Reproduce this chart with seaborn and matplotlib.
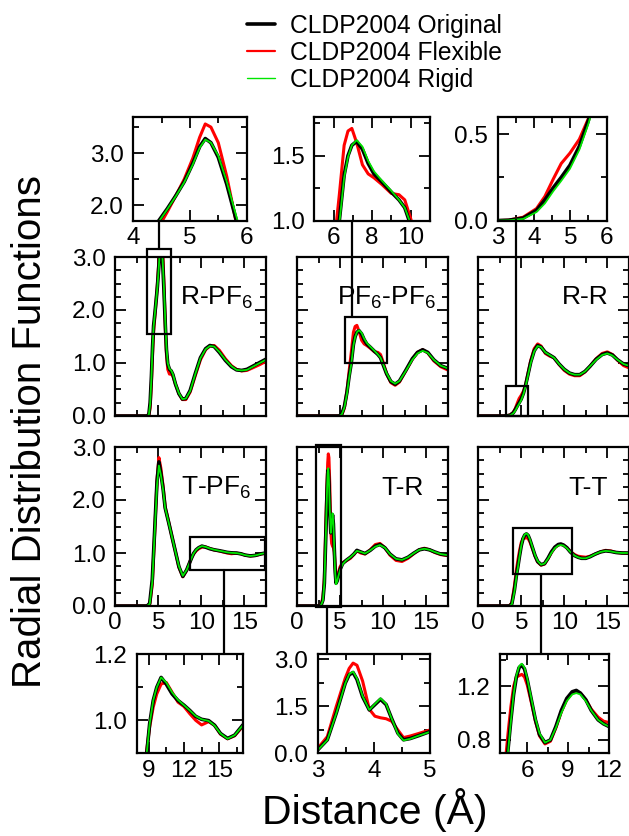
import numpy as np
import pandas as pd
import matplotlib
matplotlib.use("Agg")
import matplotlib.pyplot as plt
from matplotlib.ticker import MultipleLocator, FormatStrFormatter
from matplotlib.lines import Line2D
from matplotlib.patches import Rectangle
import seaborn as sns

# ---------------- radial distribution functions g(r) ----------------
models = ["CLDP2004 Original", "CLDP2004 Flexible", "CLDP2004 Rigid"]

r_rpf6 = [0, 3.7, 3.9, 4.05, 4.2, 4.33, 4.45, 4.6, 4.75, 4.9, 5.05, 5.17, 5.27, 5.37, 5.5, 5.65,
          5.82, 5.95, 6.1, 6.3, 6.5, 6.7, 7.0, 7.4, 7.8, 8.2, 8.7, 9.3, 9.9, 10.5, 11.0, 11.5,
          12.1, 12.8, 13.5, 14.1, 14.7, 15.3, 16.0, 16.8, 17.5]
g_rpf6_original = [0, 0, 0.03, 0.25, 0.75, 1.3, 1.7, 1.93, 2.18, 2.45, 2.8, 3.12, 3.28, 3.2, 2.92,
                   2.4, 1.7, 1.25, 0.98, 0.88, 0.85, 0.78, 0.6, 0.42, 0.32, 0.33, 0.48, 0.8, 1.1,
                   1.27, 1.33, 1.31, 1.2, 1.05, 0.93, 0.87, 0.86, 0.88, 0.94, 1.01, 1.07]
g_rpf6_flexible = [0, 0, 0.0, 0.15, 0.6, 1.15, 1.58, 1.87, 2.18, 2.5, 2.9, 3.3, 3.56, 3.5, 3.2,
                   2.55, 1.65, 1.15, 0.88, 0.79, 0.8, 0.75, 0.6, 0.42, 0.31, 0.31, 0.45, 0.76,
                   1.06, 1.25, 1.32, 1.33, 1.24, 1.08, 0.95, 0.88, 0.85, 0.86, 0.91, 0.97, 1.03]
g_rpf6_rigid = [0, 0, 0.02, 0.22, 0.72, 1.28, 1.68, 1.92, 2.17, 2.44, 2.78, 3.1, 3.26, 3.2, 2.95,
                2.45, 1.78, 1.3, 1.0, 0.89, 0.86, 0.79, 0.61, 0.43, 0.32, 0.33, 0.47, 0.79, 1.09,
                1.26, 1.32, 1.31, 1.21, 1.06, 0.94, 0.87, 0.86, 0.87, 0.93, 1.0, 1.06]

r_pf6pf6 = [0, 4.9, 5.2, 5.5, 5.8, 6.05, 6.3, 6.55, 6.75, 6.95, 7.2, 7.5, 7.8, 8.1, 8.5, 9.0,
            9.4, 9.7, 10.0, 10.4, 10.9, 11.4, 11.9, 12.6, 13.4, 14.0, 14.6, 15.2, 15.9, 16.7, 17.5]
g_pf6pf6_original = [0, 0, 0.04, 0.18, 0.45, 0.75, 1.0, 1.35, 1.5, 1.58, 1.61, 1.55, 1.44, 1.36,
                     1.3, 1.22, 1.16, 1.1, 0.97, 0.8, 0.65, 0.6, 0.66, 0.85, 1.08, 1.2, 1.25,
                     1.2, 1.06, 0.95, 0.9]
g_pf6pf6_flexible = [0, 0, 0.02, 0.15, 0.48, 0.85, 1.2, 1.58, 1.69, 1.71, 1.6, 1.43, 1.36, 1.33,
                     1.28, 1.21, 1.2, 1.16, 1.02, 0.8, 0.63, 0.58, 0.64, 0.84, 1.07, 1.2, 1.25,
                     1.19, 1.04, 0.93, 0.87]
g_pf6pf6_rigid = [0, 0, 0.03, 0.16, 0.42, 0.72, 0.98, 1.33, 1.49, 1.58, 1.62, 1.57, 1.46, 1.38,
                  1.31, 1.23, 1.16, 1.1, 0.98, 0.81, 0.66, 0.61, 0.66, 0.84, 1.06, 1.18, 1.23,
                  1.19, 1.06, 0.95, 0.9]

r_rr = [0, 2.9, 3.3, 3.7, 4.07, 4.3, 4.53, 4.75, 4.99, 5.25, 5.5, 5.8, 6.1, 6.5, 6.9, 7.3, 7.8,
        8.3, 8.8, 9.4, 10.0, 10.6, 11.2, 11.8, 12.4, 13.0, 13.7, 14.4, 15.0, 15.6, 16.2, 16.9, 17.5]
g_rr_original = [0, 0, 0.003, 0.015, 0.06, 0.12, 0.19, 0.25, 0.32, 0.43, 0.58, 0.8, 1.02, 1.23,
                 1.33, 1.3, 1.2, 1.15, 1.1, 0.98, 0.88, 0.81, 0.78, 0.78, 0.84, 0.94, 1.07, 1.16,
                 1.19, 1.15, 1.06, 0.98, 0.95]
g_rr_flexible = [0, 0, 0.003, 0.02, 0.07, 0.14, 0.24, 0.33, 0.39, 0.47, 0.59, 0.82, 1.05, 1.27,
                 1.36, 1.32, 1.18, 1.13, 1.1, 0.97, 0.86, 0.79, 0.76, 0.76, 0.83, 0.94, 1.08,
                 1.18, 1.21, 1.16, 1.05, 0.95, 0.91]
g_rr_rigid = [0, 0, 0.002, 0.01, 0.05, 0.1, 0.17, 0.23, 0.3, 0.41, 0.56, 0.78, 1.0, 1.22, 1.32,
              1.3, 1.2, 1.15, 1.1, 0.98, 0.88, 0.81, 0.78, 0.78, 0.84, 0.94, 1.06, 1.15, 1.18,
              1.14, 1.06, 0.98, 0.95]

r_tpf6 = [0, 3.7, 4.0, 4.3, 4.6, 4.85, 5.07, 5.3, 5.55, 5.8, 6.2, 6.6, 7.0, 7.4, 7.85, 8.3, 8.6,
          8.85, 9.1, 9.4, 9.7, 10.07, 10.5, 11.0, 11.5, 12.0, 12.5, 13.0, 13.5, 14.1, 14.6, 15.1,
          15.7, 16.3, 17.0, 17.5]
g_tpf6_original = [0, 0, 0.05, 0.5, 1.5, 2.35, 2.72, 2.5, 2.22, 1.85, 1.58, 1.3, 1.02, 0.74,
                   0.56, 0.68, 0.8, 0.9, 0.99, 1.06, 1.1, 1.13, 1.11, 1.08, 1.06, 1.046, 1.03,
                   1.012, 1.003, 0.999, 0.985, 0.96, 0.945, 0.955, 0.986, 1.0]
g_tpf6_flexible = [0, 0, 0.02, 0.4, 1.45, 2.38, 2.8, 2.6, 2.27, 1.87, 1.59, 1.3, 1.02, 0.73,
                   0.55, 0.67, 0.8, 0.91, 0.98, 1.04, 1.08, 1.11, 1.115, 1.085, 1.055, 1.042,
                   1.02, 1.0, 0.986, 0.996, 0.985, 0.958, 0.944, 0.953, 0.982, 0.998]
g_tpf6_rigid = [0, 0, 0.04, 0.45, 1.45, 2.28, 2.65, 2.47, 2.2, 1.85, 1.58, 1.3, 1.02, 0.75,
                0.57, 0.68, 0.8, 0.9, 0.99, 1.06, 1.1, 1.13, 1.115, 1.085, 1.062, 1.046, 1.03,
                1.013, 1.003, 0.998, 0.984, 0.96, 0.944, 0.955, 0.985, 1.0]

r_tr = [0, 2.6, 2.8, 3.0, 3.17, 3.33, 3.49, 3.56, 3.63, 3.7, 3.8, 3.92, 4.02, 4.12, 4.22, 4.32,
        4.43, 4.53, 4.65, 4.8, 5.0, 5.3, 5.7, 6.2, 6.6, 6.95, 7.4, 7.9, 8.5, 9.1, 9.64, 10.2,
        10.8, 11.5, 12.2, 12.9, 13.6, 14.2, 14.8, 15.4, 16.0, 16.7, 17.5]
g_tr_original = [0, 0, 0.02, 0.11, 0.43, 1.28, 2.23, 2.5, 2.57, 2.35, 1.8, 1.38, 1.55, 1.72,
                 1.55, 1.1, 0.64, 0.43, 0.47, 0.56, 0.69, 0.8, 0.86, 0.92, 0.98, 1.05, 1.02,
                 0.99, 1.05, 1.13, 1.16, 1.1, 0.98, 0.89, 0.87, 0.92, 1.0, 1.06, 1.08, 1.06,
                 1.02, 0.98, 0.96]
g_tr_flexible = [0, 0, 0.03, 0.16, 0.53, 1.49, 2.39, 2.7, 2.87, 2.8, 2.3, 1.4, 1.18, 1.13,
                 1.1, 1.02, 0.74, 0.5, 0.55, 0.63, 0.74, 0.82, 0.85, 0.9, 0.97, 1.04, 1.0,
                 0.98, 1.06, 1.16, 1.18, 1.1, 0.96, 0.86, 0.84, 0.9, 0.99, 1.06, 1.09, 1.06,
                 1.01, 0.97, 0.95]
g_tr_rigid = [0, 0, 0.02, 0.1, 0.42, 1.27, 2.22, 2.52, 2.6, 2.38, 1.82, 1.38, 1.57, 1.75,
              1.57, 1.1, 0.62, 0.41, 0.46, 0.56, 0.68, 0.79, 0.86, 0.92, 0.98, 1.04, 1.02,
              0.99, 1.05, 1.12, 1.15, 1.1, 0.98, 0.89, 0.87, 0.92, 1.0, 1.06, 1.08, 1.06,
              1.02, 0.98, 0.96]

r_tt = [0, 3.6, 3.9, 4.2, 4.45, 4.6, 4.8, 5.0, 5.2, 5.4, 5.6, 5.8, 6.0, 6.3, 6.6, 6.9, 7.3, 7.7,
        8.1, 8.5, 8.9, 9.3, 9.6, 9.9, 10.3, 10.7, 11.2, 11.6, 12.0, 12.5, 13.0, 13.6, 14.2, 14.8,
        15.4, 16.0, 16.7, 17.5]
g_tt_original = [0, 0, 0.04, 0.3, 0.6, 0.74, 0.95, 1.14, 1.27, 1.34, 1.36, 1.33, 1.25, 1.1, 0.95,
                 0.84, 0.78, 0.8, 0.9, 1.02, 1.11, 1.16, 1.17, 1.15, 1.1, 1.02, 0.95, 0.92, 0.9,
                 0.9, 0.93, 0.98, 1.02, 1.04, 1.03, 1.01, 1.0, 1.0]
g_tt_flexible = [0, 0, 0.06, 0.38, 0.7, 0.86, 1.05, 1.2, 1.27, 1.28, 1.29, 1.27, 1.21, 1.08,
                 0.94, 0.83, 0.77, 0.79, 0.89, 1.01, 1.1, 1.15, 1.16, 1.15, 1.1, 1.03, 0.97,
                 0.94, 0.93, 0.92, 0.94, 0.98, 1.02, 1.05, 1.04, 1.01, 1.0, 0.99]
g_tt_rigid = [0, 0, 0.03, 0.27, 0.57, 0.72, 0.94, 1.14, 1.28, 1.35, 1.37, 1.34, 1.26, 1.11, 0.96,
              0.85, 0.78, 0.8, 0.89, 1.0, 1.09, 1.14, 1.15, 1.14, 1.09, 1.02, 0.95, 0.92, 0.9,
              0.9, 0.93, 0.98, 1.02, 1.04, 1.03, 1.01, 1.0, 1.0]

panel_labels = ["R-PF$_6$", "PF$_6$-PF$_6$", "R-R", "T-PF$_6$", "T-R", "T-T"]

# ---------------- style ----------------
sns.set_style("ticks")
plt.rcParams["font.family"] = ["Liberation Sans", "DejaVu Sans"]
plt.rcParams["mathtext.fontset"] = "custom"
plt.rcParams["mathtext.rm"] = "Liberation Sans"
plt.rcParams["mathtext.it"] = "Liberation Sans:italic"
plt.rcParams["mathtext.default"] = "regular"
for key in ["text.color", "axes.labelcolor", "xtick.color", "ytick.color", "axes.edgecolor"]:
    plt.rcParams[key] = "black"

colors = {"CLDP2004 Original": "#000000", "CLDP2004 Flexible": "#ff0000",
          "CLDP2004 Rigid": "#00e600"}
widths = {"CLDP2004 Original": 2.6, "CLDP2004 Flexible": 2.2, "CLDP2004 Rigid": 1.3}
legend_widths = {"CLDP2004 Original": 2.6, "CLDP2004 Flexible": 1.6, "CLDP2004 Rigid": 1.0}
draw_order = ["CLDP2004 Flexible", "CLDP2004 Original", "CLDP2004 Rigid"]

W, H = 629, 836
fig = plt.figure(figsize=(W / 100, H / 100), dpi=100)


def box(x0, y0, x1, y1):
    """Pixel box (origin top-left) -> figure fraction rect."""
    return [x0 / W, 1 - y1 / H, (x1 - x0) / W, (y1 - y0) / H]


def long_frame(r, orig, flex, rigid):
    frames = []
    for name, g in zip(models, [orig, flex, rigid]):
        frames.append(pd.DataFrame({"r": r, "g": g, "model": name}))
    return pd.concat(frames, ignore_index=True)


def draw_curves(ax, df):
    for name in draw_order:
        sub = df[df["model"] == name]
        sns.lineplot(data=sub, x="r", y="g", ax=ax, color=colors[name],
                     linewidth=widths[name], legend=False, sort=False, estimator=None)
    ax.set_xlabel("")
    ax.set_ylabel("")


def style(ax, xlim, ylim, xmaj, xmin, ymaj, ymin, xfmt, yfmt, xlab=True, ylab=True):
    ax.set_xlim(*xlim)
    ax.set_ylim(*ylim)
    ax.xaxis.set_major_locator(MultipleLocator(xmaj))
    ax.xaxis.set_minor_locator(MultipleLocator(xmin))
    ax.yaxis.set_major_locator(MultipleLocator(ymaj))
    ax.yaxis.set_minor_locator(MultipleLocator(ymin))
    ax.xaxis.set_major_formatter(FormatStrFormatter(xfmt))
    ax.yaxis.set_major_formatter(FormatStrFormatter(yfmt))
    ax.tick_params(which="both", direction="in", top=True, right=True, colors="black",
                   width=1.3, labelsize=17.5)
    ax.tick_params(which="major", length=8)
    ax.tick_params(which="minor", length=4.5)
    ax.tick_params(axis="x", which="major", pad=4.5)
    ax.tick_params(axis="y", which="major", pad=7)
    ax.tick_params(labelbottom=xlab, labelleft=ylab)
    for s in ax.spines.values():
        s.set_linewidth(1.6)
        s.set_color("black")
    ax.set_facecolor("white")


data = [
    long_frame(r_rpf6, g_rpf6_original, g_rpf6_flexible, g_rpf6_rigid),
    long_frame(r_pf6pf6, g_pf6pf6_original, g_pf6pf6_flexible, g_pf6pf6_rigid),
    long_frame(r_rr, g_rr_original, g_rr_flexible, g_rr_rigid),
    long_frame(r_tpf6, g_tpf6_original, g_tpf6_flexible, g_tpf6_rigid),
    long_frame(r_tr, g_tr_original, g_tr_flexible, g_tr_rigid),
    long_frame(r_tt, g_tt_original, g_tt_flexible, g_tt_rigid),
]

# main panels
col_x = [115.3, 297.1, 478.3]
col_w = 150.5
row_y = [(257, 416), (447, 606)]
label_pos = [(7.5, 2.09), (4.64, 2.09), (9.7, 2.12), (7.64, 2.09), (9.85, 2.09), (10.48, 2.09)]
zoom_boxes = [(3.65, 1.55, 6.5, 3.15), (5.6, 1.0, 10.5, 1.87), (3.2, 0.0, 5.8, 0.57),
              (8.7, 0.68, 17.35, 1.31), (2.24, -0.02, 5.07, 3.04), (4.0, 0.61, 10.9, 1.48)]

for i in range(6):
    row, col = divmod(i, 3)
    y0, y1 = row_y[row]
    ax = fig.add_axes(box(col_x[col], y0, col_x[col] + col_w, y1))
    draw_curves(ax, data[i])
    style(ax, (0, 17.5), (0, 3.0), 5, 2.5, 1.0, 0.25, "%d", "%.1f",
          xlab=(row == 1), ylab=(col == 0))
    lx, ly = label_pos[i]
    ax.text(lx, ly, panel_labels[i], fontsize=19, ha="left", va="baseline")
    bx0, by0, bx1, by1 = zoom_boxes[i]
    ax.add_patch(Rectangle((bx0, by0), bx1 - bx0, by1 - by0, fill=False,
                           edgecolor="black", linewidth=1.6, clip_on=False, zorder=5))

# magnified views
insets = [
    # pixel box, xlim, ylim, xmaj, xmin, ymaj, ymin, xfmt, yfmt
    ((133.3, 116.7, 246.6, 220.7), (4, 6), (1.7, 3.7), 1, 0.5, 1.0, 0.5, "%d", "%.1f"),
    ((314.3, 116.7, 429.8, 220.7), (5, 11), (1.0, 1.8), 2, 1, 0.5, 0.25, "%d", "%.1f"),
    ((497.7, 116.7, 606.6, 220.7), (3, 6), (0.0, 0.6), 1, 0.5, 0.5, 0.25, "%d", "%.1f"),
    ((136.7, 654.3, 242.9, 753.3), (8, 17), (0.9, 1.2001), 3, 1.5, 0.2, 0.1, "%d", "%.1f"),
    ((317.8, 654.3, 429.8, 753.3), (3, 5), (0.0, 3.15), 1, 0.5, 1.5, 0.75, "%d", "%.1f"),
    ((500.0, 654.3, 609.0, 753.3), (4, 12), (0.7, 1.44), 3, 1.5, 0.4, 0.2, "%d", "%.1f"),
]
for i, (pb, xl, yl, xma, xmi, yma, ymi, xf, yf) in enumerate(insets):
    ax = fig.add_axes(box(*pb))
    draw_curves(ax, data[i])
    style(ax, xl, yl, xma, xmi, yma, ymi, xf, yf)

# connector lines between boxes and magnified views (pixel x, y_start, y_end)
connectors = [(159.3, 220.7, 249.0), (352.3, 220.7, 317.3), (516.0, 220.0, 385.8),
              (223.6, 570.0, 654.3), (327.0, 606.0, 654.3), (541.0, 573.7, 654.3)]
for cx, cy0, cy1 in connectors:
    fig.add_artist(Line2D([cx / W, cx / W], [1 - cy0 / H, 1 - cy1 / H],
                          transform=fig.transFigure, color="black", linewidth=1.6))

# legend
handles = [Line2D([], [], color=colors[m], linewidth=legend_widths[m]) for m in models]
fig.legend(handles, models, loc="upper left", bbox_to_anchor=(246.7 / W, 1 - 13.5 / H),
           frameon=False, fontsize=17.7, handlelength=1.15, handletextpad=0.61,
           labelspacing=0.126, borderpad=0, borderaxespad=0)

fig.text(30 / W, 1 - 432 / H, "Radial Distribution Functions", rotation=90,
         fontsize=29, ha="center", va="center")
fig.text(374.5 / W, 1 - 810 / H, "Distance (Å)", fontsize=29.5, ha="center", va="center")

fig.savefig("out.png", dpi=100, facecolor="white")
